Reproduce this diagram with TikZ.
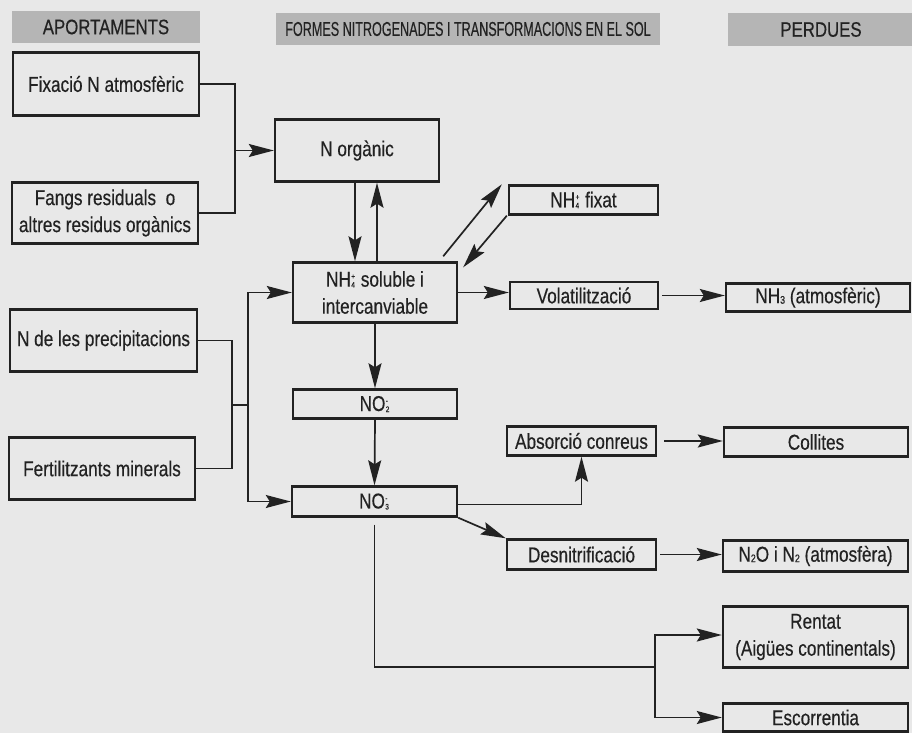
\documentclass[tikz,border=0pt]{standalone}
\usepackage{fontspec}
\setmainfont[FakeStretch=0.8,FakeBold=0.4]{Liberation Sans}
\newfontfamily\hdrnarrow[FakeStretch=0.63,FakeBold=0.4]{Liberation Sans}
\usetikzlibrary{arrows.meta}
\definecolor{bgc}{HTML}{E8E8E8}
\definecolor{hdrc}{HTML}{B5B5B5}
\definecolor{inkc}{HTML}{222222}
\newcommand\ionsb[2]{\kern0.4pt\raisebox{-1pt}{\fontsize{8}{8}\selectfont\shortstack[l]{#2\\#1}}\kern1pt}
\newcommand\subsc[1]{\raisebox{-0.5pt}{\fontsize{11}{11}\selectfont #1}}
\begin{document}
\begin{tikzpicture}[x=1pt,y=-1pt,
  every node/.style={text=inkc},
  hdr/.style={fill=hdrc,draw=none,inner sep=0pt,font=\fontsize{21}{21}\selectfont},
  bx/.style={draw=inkc,line width=2.4pt,inner sep=0pt,align=center,font=\fontsize{21.5}{27}\selectfont},
  ln/.style={draw=inkc,line width=1.7pt},
  arr/.style={ln,-{Stealth[length=25pt,width=13pt,inset=4pt]}}]
\useasboundingbox (0,0) rectangle (912,733);
\fill[bgc] (0,0) rectangle (912,733);
% headers
\node[hdr,minimum width=188pt,minimum height=32pt] (hA) at (106,27) {APORTAMENTS};
\node[hdr,minimum width=384pt,minimum height=32pt,font=\hdrnarrow\fontsize{20}{20}\selectfont] (hF) at (468,29) {FORMES NITROGENADES I TRANSFORMACIONS EN EL SOL};
\node[hdr,minimum width=186pt,minimum height=33pt] (hP) at (821,29.5) {PERDUES};
% left column
\node[bx,minimum width=186pt,minimum height=63pt] (fix) at (106,84) {Fixació N atmosfèric};
\node[bx,minimum width=186pt,minimum height=61pt] (fangs) at (105,213) {Fangs residuals~ o\\altres residus orgànics};
\node[bx,minimum width=187pt,minimum height=62pt] (prec) at (103.5,340.5) {N de les precipitacions};
\node[bx,minimum width=186pt,minimum height=62pt] (fert) at (102,468.5) {Fertilitzants minerals};
% middle column
\node[bx,minimum width=164pt,minimum height=62pt] (norg) at (357,150.5) {N orgànic};
\node[bx,minimum width=164pt,minimum height=60pt] (sol) at (375,292.5) {NH\ionsb{4}{+}\ soluble i\\intercanviable};
\node[bx,minimum width=164pt,minimum height=29pt] (no2) at (375,404) {NO\ionsb{2}{-}};
\node[bx,minimum width=165pt,minimum height=30pt] (no3) at (374.5,501.5) {NO\ionsb{3}{-}};
% transformation column
\node[bx,minimum width=149pt,minimum height=29pt] (fixat) at (583.5,200) {NH\ionsb{4}{+}\ fixat};
\node[bx,minimum width=148pt,minimum height=27pt] (vol) at (584,295.5) {Volatilització};
\node[bx,minimum width=149pt,minimum height=29pt] (abs) at (581.5,441) {Absorció conreus};
\node[bx,minimum width=149pt,minimum height=30pt] (des) at (581.5,554.5) {Desnitrificació};
% losses column
\node[bx,minimum width=184pt,minimum height=28pt] (nh3) at (818,297.5) {NH\subsc{3} (atmosfèric)};
\node[bx,minimum width=184pt,minimum height=29pt] (coll) at (816,442) {Collites};
\node[bx,minimum width=185pt,minimum height=31pt] (n2o) at (815.5,556) {N\subsc{2}O i N\subsc{2} (atmosfèra)};
\node[bx,minimum width=185pt,minimum height=61pt] (rent) at (815.5,637) {Rentat\\(Aigües continentals)};
\node[bx,minimum width=185pt,minimum height=28pt] (esc) at (815.5,717.5) {Escorrentia};
% junction coordinates
\coordinate (j1) at (235,150.5);
\coordinate (j2) at (232,405);
\coordinate (j3) at (248,405);
\coordinate (j4) at (655,667);
% inputs to N organic
\draw[ln] (fix.east) -| (j1) |- (fangs.east);
\draw[arr] (j1) -- (norg.west);
% mineral inputs
\draw[ln] (prec.east) -| (j2) |- (fert.east);
\draw[ln] (j2) -- (j3);
\draw[arr] (j3) |- (sol.west);
\draw[arr] (j3) |- (no3.west);
% N organic <-> NH4
\draw[arr] ([xshift=-2pt]norg.south) -- ([xshift=-20pt]sol.north);
\draw[arr] ([xshift=2pt]sol.north) -- ([xshift=20pt]norg.south);
% NH4 <-> fixat
\draw[arr] ([xshift=-15pt,yshift=5pt]sol.north east) -- ([xshift=-6pt]fixat.north west);
\draw[arr] ([xshift=-1pt]fixat.south west) -- ([xshift=5pt,yshift=-6pt]sol.north east);
% volatilisation
\draw[arr] (sol.east) -- (sol.east -| vol.west);
\draw[arr] ([xshift=3pt]vol.east) -- (vol.east -| nh3.west);
% nitrification
\draw[arr] (sol.south) -- (no2.north);
\draw[arr] (no2.south) -- (no3.north);
% nitrate fates
\draw[arr] ([yshift=-3pt]no3.east) -| (abs.south);
\draw[arr] (no3.south east) -- (des.north west);
\draw[arr] ([xshift=7pt]abs.east) -- (abs.east -| coll.west);
\draw[arr] ([xshift=3pt]des.east) -- (des.east -| n2o.west);
\draw[ln] ([yshift=-7pt]no3.south) |- (j4);
\draw[arr] (j4) |- ([yshift=2pt]rent.west);
\draw[arr] (j4) |- (esc.west);
\end{tikzpicture}
\end{document}
